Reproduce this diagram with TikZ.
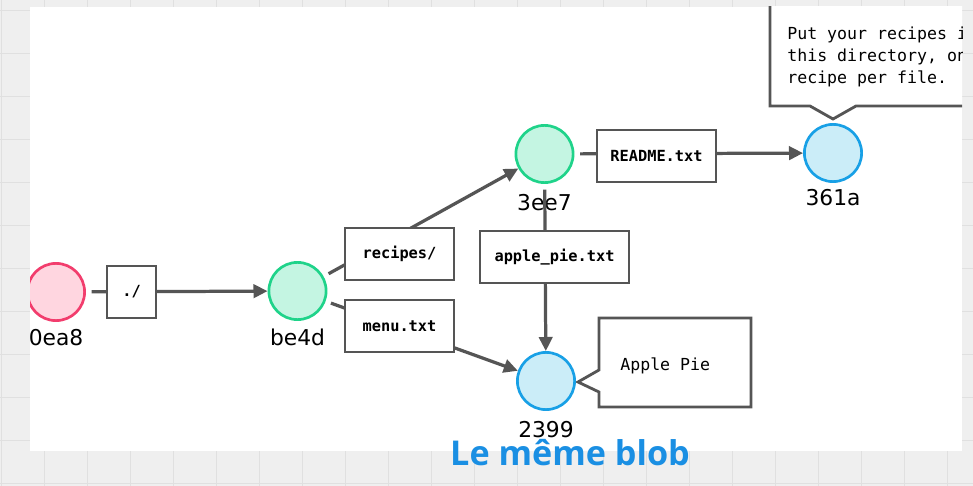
\documentclass[tikz,border=0pt]{standalone}
\usepackage{xcolor}
\usepackage{fontspec}
\usepackage{tikz}
\usetikzlibrary{arrows.meta}
\setmainfont{DejaVu Sans}
\newfontfamily\hashfont{DejaVu Sans}
\newfontfamily\codefont{DejaVu Sans Mono}
\newfontfamily\titlefont{Open Sans}
\definecolor{edgegray}{HTML}{555555}
\definecolor{rootfill}{HTML}{FFD6E0}
\definecolor{rootline}{HTML}{F23D6D}
\definecolor{treefill}{HTML}{C4F5E2}
\definecolor{treeline}{HTML}{1FD38A}
\definecolor{blobfill}{HTML}{CBEDF8}
\definecolor{blobline}{HTML}{18A0E6}
\definecolor{gridbg}{HTML}{EFEFEF}
\definecolor{gridline}{HTML}{E0E0E0}
\definecolor{noteblue}{HTML}{1A8FE3}

\begin{document}
\begin{tikzpicture}[x=0.025cm,y=-0.025cm,
    obj/.style={draw,circle,minimum size=1.43cm,inner sep=0,line width=1.9pt},
    commit/.style={obj,draw=rootline,fill=rootfill},
    tree/.style={obj,draw=treeline,fill=treefill},
    blob/.style={obj,draw=blobline,fill=blobfill},
    hash/.style={anchor=base,font=\hashfont\fontsize{15.5}{18}\selectfont},
    entry/.style={draw=edgegray,fill=white,line width=1.5pt,minimum height=1.3cm,inner sep=0,
      font=\codefont\bfseries\fontsize{10.9}{13}\selectfont},
    link/.style={draw=edgegray,line width=2.3pt,shorten <=4pt,-{Triangle[length=10pt,width=9.5pt]}},
    note/.style={draw=edgegray,fill=white,line width=2pt,line join=miter},
    notetext/.style={anchor=base west,align=left,inner sep=0,font=\codefont\fontsize{11.8}{16}\selectfont}]
  \useasboundingbox (0,0) rectangle (973,486);
  % background grid
  \fill[gridbg] (0,0) rectangle (973,486);
  \foreach \i in {0,...,22}{
    \draw[gridline,line width=0.7pt] (\i*43+1,0) -- (\i*43+1,486);
  }
  \foreach \j in {0,...,11}{
    \draw[gridline,line width=0.7pt] (0,\j*43+10) -- (973,\j*43+10);
  }
  \fill[white] (30,7) rectangle (962,451);
  \begin{scope}
    \clip (30,7) rectangle (962,451);
    % callouts
    \draw[note] (770,-20) -- (770,106) -- (810,106) -- (833,119) -- (856,106) -- (1010,106) -- (1010,-20) -- cycle;
    \node[notetext] (T-readme) at (787,84) {Put your recipes in\\this directory, one\\recipe per file.};
    \draw[note] (599,318) -- (751,318) -- (751,407) -- (599,407) -- (599,392) -- (578,382) -- (599,370) -- cycle;
    \node[notetext] (T-pie) at (620,370) {Apple Pie};
    % objects
    \node[commit] (N-0ea8) at (56,292) {};
    \node[tree] (N-be4d) at (297.5,291) {};
    \node[tree] (N-3ee7) at (544.5,154) {};
    \node[blob] (N-361a) at (833,153) {};
    \node[blob] (N-2399) at (546,381) {};
    \node[hash] (L-0ea8) at (56,345) {0ea8};
    \node[hash] (L-be4d) at (297.5,345) {be4d};
    \node[hash] (L-3ee7) at (544.5,210) {3ee7};
    \node[hash] (L-361a) at (833,205) {361a};
    \node[hash] (L-2399) at (546,437) {2399};
    % entries
    \draw[link] (N-0ea8) -- (N-be4d) node[entry,minimum width=1.225cm] (E-root) at (131.5,292) {./};
    \draw[link] (N-be4d) -- (N-3ee7) node[entry,minimum width=2.725cm] (E-recipes) at (399.5,254) {recipes/};
    \draw[link] (N-be4d) -- (N-2399) node[entry,minimum width=2.725cm] (E-menu) at (399.5,326) {menu.txt};
    \draw[link] (N-3ee7) -- (N-2399) node[entry,minimum width=3.725cm] (E-pie) at (554.5,257) {apple\_pie.txt};
    \draw[link] (N-3ee7) -- (N-361a) node[entry,minimum width=2.975cm] (E-readme) at (656.5,156) {README.txt};
  \end{scope}
  \node[anchor=base,text=noteblue,font=\titlefont\bfseries\fontsize{24.3}{28}\selectfont] (T-same) at (570,465) {Le même blob};
\end{tikzpicture}
\end{document}
